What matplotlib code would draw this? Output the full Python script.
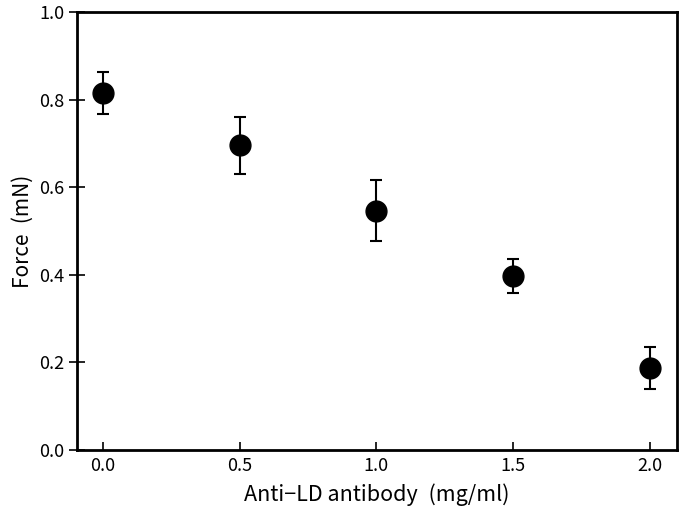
import matplotlib.pyplot as plt

plt.rcParams['font.family'] = ['Noto Sans CJK JP', 'DejaVu Sans']

# data
conc = [0.0, 0.5, 1.0, 1.5, 2.0]
force = [0.815, 0.696, 0.546, 0.397, 0.187]
err = [0.048, 0.065, 0.07, 0.038, 0.048]

fig = plt.figure(figsize=(6.83, 5.22), dpi=100)
ax = fig.add_axes([0.113, 0.138, 0.878, 0.839])
ax.errorbar(conc, force, yerr=err, fmt='o', color='black', markersize=15,
            capsize=4, elinewidth=1.5, capthick=1.5)
ax.set_xlim(-0.095, 2.1)
ax.set_ylim(0, 1.0)
ax.set_xticks([0.0, 0.5, 1.0, 1.5, 2.0])
ax.set_yticks([0.0, 0.2, 0.4, 0.6, 0.8, 1.0])
ax.set_xticklabels(['0.0', '0.5', '1.0', '1.5', '2.0'])
ax.set_yticklabels(['0.0', '0.2', '0.4', '0.6', '0.8', '1.0'])
ax.tick_params(axis='x', direction='in', length=6, width=1.2, labelsize=13, pad=5)
ax.tick_params(axis='y', direction='inout', length=12, width=1.2, labelsize=13, pad=3)
for s in ax.spines.values():
    s.set_linewidth(2)
ax.set_xlabel('Anti\u2212LD antibody\u2002(mg/ml)', fontsize=15.5, labelpad=6)
ax.set_ylabel('Force\u2002(mN)', fontsize=15, labelpad=4)
fig.savefig('out.png', dpi=100)
